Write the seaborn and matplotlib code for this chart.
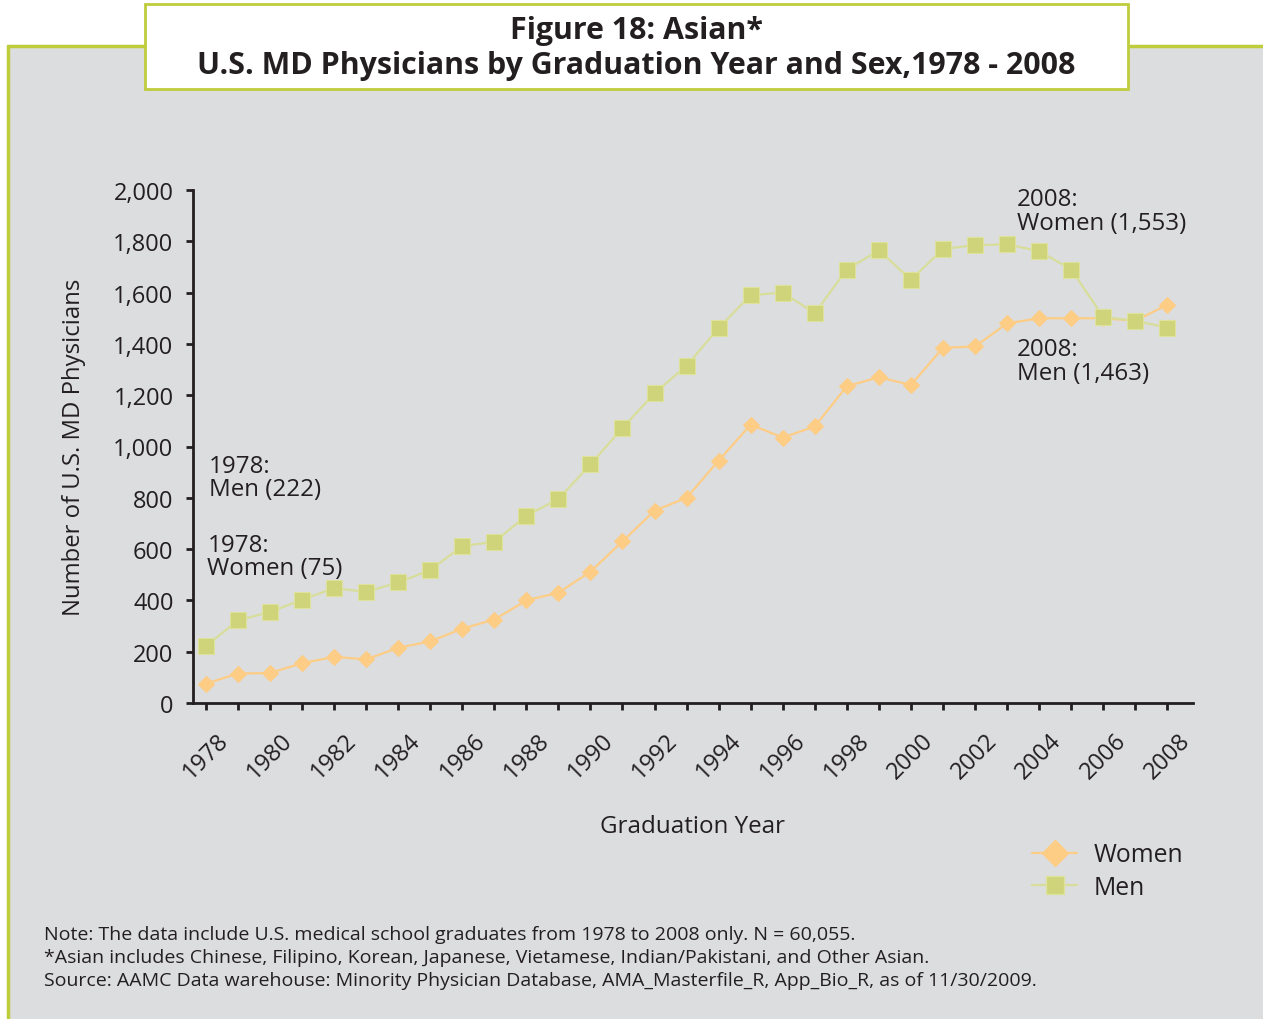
import matplotlib
matplotlib.use("Agg")
import matplotlib.pyplot as plt
from matplotlib.patches import Rectangle
from matplotlib.lines import Line2D
import pandas as pd
import seaborn as sns

years = list(range(1978, 2009))
women = [75, 115, 117, 155, 180, 170, 215, 240, 290, 325, 400, 430, 512, 630, 750,
         800, 945, 1085, 1035, 1078, 1235, 1270, 1240, 1385, 1390, 1480, 1500, 1500,
         1500, 1490, 1553]
men = [222, 322, 355, 402, 448, 433, 470, 518, 612, 628, 730, 795, 930, 1072, 1208,
       1315, 1462, 1590, 1600, 1520, 1690, 1765, 1650, 1770, 1785, 1788, 1762, 1690,
       1505, 1490, 1463]

df = pd.DataFrame({"Year": years * 2,
                   "Count": women + men,
                   "Sex": ["Women"] * len(years) + ["Men"] * len(years)})

sns.set_theme(style="white")
plt.rcParams["font.family"] = ["Open Sans", "DejaVu Sans"]

W, H = 1263, 1020
fig = plt.figure(figsize=(12.63, 10.2), dpi=100)
fig.patch.set_facecolor("white")

green = "#bfcc3c"
panel_bg = "#dcdddf"
text_c = "#231f20"
# gray panel with green top/left edge
fig.patches.append(Rectangle((8 / W, 0), 1 - 8 / W, 1 - 47 / H,
                             transform=fig.transFigure, facecolor=panel_bg,
                             edgecolor="none", zorder=-3))
fig.add_artist(Line2D([8 / W, 1], [1 - 47 / H] * 2, color=green, lw=2.5,
                      transform=fig.transFigure, zorder=-2))
fig.add_artist(Line2D([8 / W] * 2, [0, 1 - 47 / H], color=green, lw=2.5,
                      transform=fig.transFigure, zorder=-2))
# title box
fig.patches.append(Rectangle((145 / W, 1 - 90 / H), (1128 - 145) / W, 85 / H,
                             transform=fig.transFigure, facecolor="white",
                             edgecolor=green, lw=2, zorder=2))
fig.text(636 / W, 1 - 31 / H, "Figure 18: Asian*", ha="center", va="center",
         fontsize=21.9, fontweight="bold", color=text_c, zorder=3)
fig.text(636 / W, 1 - 66 / H,
         "U.S. MD Physicians by Graduation Year and Sex,1978 - 2008",
         ha="center", va="center", fontsize=21.9, fontweight="bold",
         color=text_c, zorder=3)

ax = fig.add_axes([193 / W, 1 - 704 / H, 1000 / W, 513 / H])
ax.set_zorder(1)
ax.set_facecolor("none")

palette = {"Women": "#fdcd86", "Men": "#cfd47a"}
markers = {"Women": "D", "Men": "s"}
sns.lineplot(data=df, x="Year", y="Count", hue="Sex", style="Sex",
             palette=palette, markers=markers, dashes=False, ax=ax,
             linewidth=1.6, markeredgewidth=0.8, legend=False)
ax.lines[0].set_markersize(8)
ax.lines[0].set_markeredgecolor("#fdcd86")
ax.lines[1].set_markersize(11)
ax.lines[1].set_color("#d8dd9a")
ax.lines[1].set_markerfacecolor("#cfd47a")
ax.lines[1].set_markeredgecolor("#dde29d")

ax.set_xlim(1977.6, 2008.8)
ax.set_ylim(0, 2000)
ax.set_xticks(years)
ax.set_xticklabels([str(y) if y % 2 == 0 else "" for y in years], rotation=45,
                   ha="center", va="top", fontsize=17, color=text_c)
ax.set_yticks(range(0, 2001, 200))
ax.set_yticklabels([f"{v:,}" for v in range(0, 2001, 200)], fontsize=17, color=text_c)
ax.tick_params(axis="both", direction="out", length=5, width=2, color=text_c,
               bottom=True, left=True)
ax.tick_params(axis="y", pad=9)
ax.tick_params(axis="x", pad=13)
for side in ["top", "right"]:
    ax.spines[side].set_visible(False)
for side in ["left", "bottom"]:
    ax.spines[side].set_color(text_c)
    ax.spines[side].set_linewidth(2)

ax.set_xlabel("Graduation Year", fontsize=17.4, color=text_c, labelpad=22)
ax.set_ylabel("Number of U.S. MD Physicians", fontsize=17.2, color=text_c, labelpad=20)

ann = dict(fontsize=17.4, color=text_c, linespacing=0.95, va="top", ha="left")
ax.text(1978.1, 970, "1978:\nMen (222)", **ann)
ax.text(1978.05, 663, "1978:\nWomen (75)", **ann)
ax.text(2003.3, 2010, "2008:\nWomen (1,553)", **ann)
ax.text(2003.3, 1425, "2008:\nMen (1,463)", **ann)

# legend
handles = [Line2D([], [], color="#fdcd86", marker="D", markersize=13, lw=1.6,
                  markeredgecolor="#fdcd86"),
           Line2D([], [], color="#d8dd9a", marker="s", markersize=13, lw=1.6,
                  markerfacecolor="#cfd47a", markeredgecolor="#dde29d")]
fig.legend(handles, ["Women", "Men"], loc="center left",
           bbox_to_anchor=(1010 / W, 1 - 872 / H), frameon=False,
           fontsize=17.8, handlelength=1.8, labelspacing=0.3, handletextpad=0.7,
           labelcolor=text_c)

notes = ("Note: The data include U.S. medical school graduates from 1978 to 2008 only. N = 60,055.\n"
         "*Asian includes Chinese, Filipino, Korean, Japanese, Vietamese, Indian/Pakistani, and Other Asian.\n"
         "Source: AAMC Data warehouse: Minority Physician Database, AMA_Masterfile_R, App_Bio_R, as of 11/30/2009.")
fig.text(44 / W, 1 - 958 / H, notes, ha="left", va="center", fontsize=14.0,
         color=text_c, linespacing=1.37)

fig.savefig("out.png", dpi=100, facecolor=fig.get_facecolor())
